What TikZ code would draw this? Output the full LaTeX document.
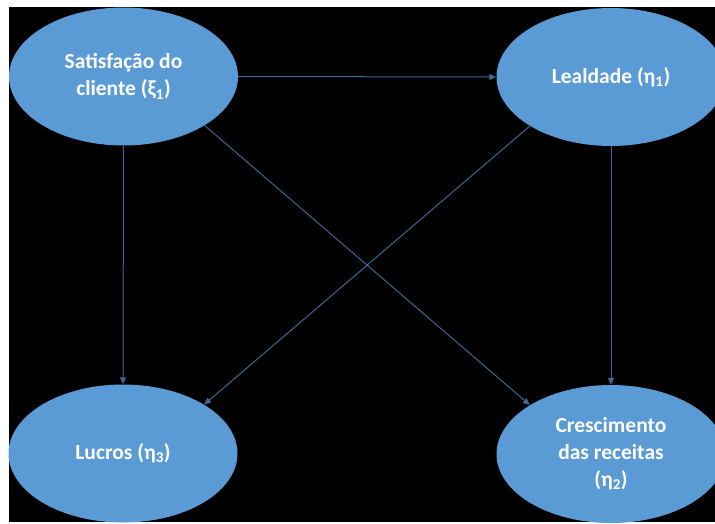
\documentclass[tikz,border=0pt]{standalone}
\usepackage{fontspec}
\setmainfont{Carlito}
\usetikzlibrary{arrows.meta,shapes.geometric}
\definecolor{latentblue}{RGB}{91,155,213}
\definecolor{edgeblue}{RGB}{64,102,150}
\tikzset{
  var/.style={ellipse, fill=latentblue, minimum width=229pt, minimum height=138pt,
    inner sep=0pt, text=white, align=center,
    font=\bfseries\fontsize{21.5}{27}\selectfont},
}
\begin{document}
\begin{tikzpicture}[x=1pt,y=-1pt]
      \useasboundingbox (0,0) rectangle (715,523);
      \fill[white] (0,0) rectangle (715,523);
      \clip (0,0) rectangle (715,523);
      \fill[black] (9,7) rectangle (715,522);
      \draw
        (123.5,76.5) node[var] (sat){Satisfação do\\cliente (ξ\textsubscript{1})}
        (611,77) node[var] (leal){Lealdade (η\textsubscript{1})}
        (123,453.5) node[var] (luc){Lucros (η\textsubscript{3})}
        (611,454) node[var] (cresc){Crescimento\\das receitas\\(η\textsubscript{2})};
      \begin{scope}[edgeblue, line width=1pt, -{Triangle[length=7pt,width=6pt]}]
        \draw (sat.east) to (leal.west);
        \draw (sat.south) to (luc.north);
        \draw (sat.south east) to (cresc.north west);
        \draw (leal.south) to (cresc.north);
        \draw (leal.south west) to (luc.north east);
      \end{scope}
    \end{tikzpicture}
\end{document}
